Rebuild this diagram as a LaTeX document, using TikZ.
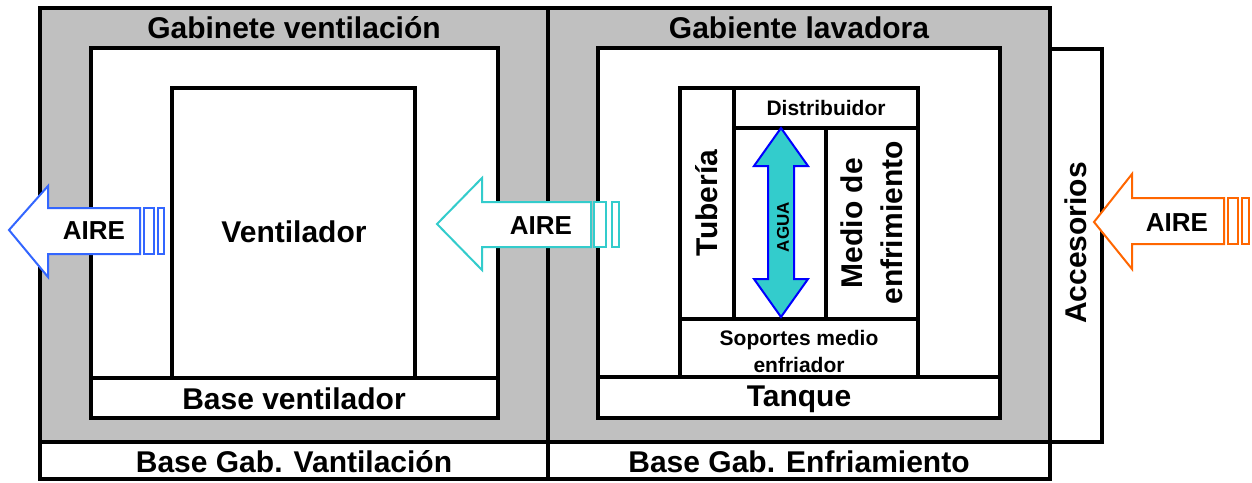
\documentclass[tikz,border=0pt]{standalone}
\usepackage{fontspec}
\setmainfont{Liberation Sans}
\definecolor{cabgray}{HTML}{C0C0C0}
\definecolor{airblue}{HTML}{3366FF}
\definecolor{aircyan}{HTML}{33CCCC}
\definecolor{airorange}{HTML}{FF6600}
\definecolor{aguafill}{HTML}{33CCCC}
\begin{document}
\begin{tikzpicture}[x=0.5pt,y=-0.5pt,
  thick box/.style={draw=black,line width=2.2pt},
  thin box/.style={draw=black,line width=1.7pt},
  big/.style={font=\bfseries\fontsize{15}{18}\selectfont,inner sep=0pt},
  small/.style={font=\bfseries\fontsize{10.5}{13.5}\selectfont,inner sep=0pt,align=center},
  airtxt/.style={font=\bfseries\fontsize{13}{15}\selectfont,inner sep=0pt},
  airarrow/.style={fill=white,line width=1pt,line join=miter},
]
\useasboundingbox (0,0) rectangle (1252,482);
% cabinets
\fill[cabgray] (40,8) rectangle (1050,442);
\fill[white] (40,442) rectangle (1050,479);
\fill[white] (91,48) rectangle (498,418);
\fill[white] (598,48) rectangle (1000,418);
\draw[thick box] (40,8) rectangle (548,442);
\draw[thick box] (548,8) rectangle (1050,442);
\draw[thick box] (40,442) rectangle (548,479);
\draw[thick box] (548,442) rectangle (1050,479);
% left inner
\draw[thick box] (91,48) rectangle (498,418);
\draw[thick box] (91,378) -- (498,378);
\draw[thick box] (172,378) -- (172,88) -- (415,88) -- (415,378);
% right inner
\draw[thick box] (598,48) rectangle (1000,418);
\draw[thick box] (598,377) -- (1000,377);
\draw[thin box] (680,377) -- (680,88) -- (918,88) -- (918,377);
\draw[thin box] (680,319) -- (918,319);
\draw[thin box] (734,88) -- (734,319);
\draw[thin box] (734,128) -- (918,128);
\draw[thin box] (826,128) -- (826,319);
% accesorios
\draw[thick box,fill=white] (1050,49) rectangle (1102,442);
% agua arrow
\draw[fill=aguafill,draw=blue,line width=1pt,line join=miter]
  (781,128) -- (808,166) -- (794,166) -- (794,279) -- (808,279) -- (781,317)
  -- (754,279) -- (768,279) -- (768,166) -- (754,166) -- cycle;
% air arrows
\draw[airarrow,draw=airblue] (9,230) -- (48,186) -- (48,208) -- (140,208) -- (140,254) -- (48,254) -- (48,277) -- cycle;
\draw[airarrow,draw=airblue] (144,208) rectangle (154,254);
\draw[airarrow,draw=airblue] (158,208) rectangle (164,254);
\draw[airarrow,draw=aircyan] (437,224) -- (482,178) -- (482,202) -- (591,202) -- (591,247) -- (482,247) -- (482,270) -- cycle;
\draw[airarrow,draw=aircyan] (594,202) rectangle (606,247);
\draw[airarrow,draw=aircyan] (612,202) rectangle (619,247);
\draw[airarrow,draw=airorange] (1094,222) -- (1132,174) -- (1132,198) -- (1224,198) -- (1224,244) -- (1132,244) -- (1132,269) -- cycle;
\draw[airarrow,draw=airorange] (1228,198) rectangle (1238,244);
\draw[airarrow,draw=airorange] (1242,198) rectangle (1249,244);
% texts
\node[big] (gv) at (294,28) {Gabinete ventilación};
\node[big] (gl) at (799,28) {Gabiente lavadora};
\node[big] (vent) at (294,232) {Ventilador};
\node[big] (bv) at (294,399) {Base ventilador};
\node[big] (tq) at (799,399) {Tanque};
\node[big] (bgv) at (294,462) {Base Gab. Vantilación};
\node[big] (bge) at (799,462) {Base Gab. Enfriamiento};
\node[big,rotate=90] (tub) at (707,203) {Tubería};
\node[big,rotate=90,align=center,font=\bfseries\fontsize{15}{20}\selectfont] (medio) at (872,223) {Medio de\\enfrimiento};
\node[big,rotate=90] (acc) at (1076,243) {Accesorios};
\node[small] (dist) at (826,108) {Distribuidor};
\node[small] (sop) at (799,351) {Soportes medio\\enfriador};
\node[font=\bfseries\fontsize{8.5}{10}\selectfont,inner sep=0pt,rotate=90] (agua) at (783,227) {AGUA};
\node[airtxt] (a1) at (94,231) {AIRE};
\node[airtxt] (a2) at (541,226) {AIRE};
\node[airtxt] (a3) at (1177,223) {AIRE};
\end{tikzpicture}
\end{document}
